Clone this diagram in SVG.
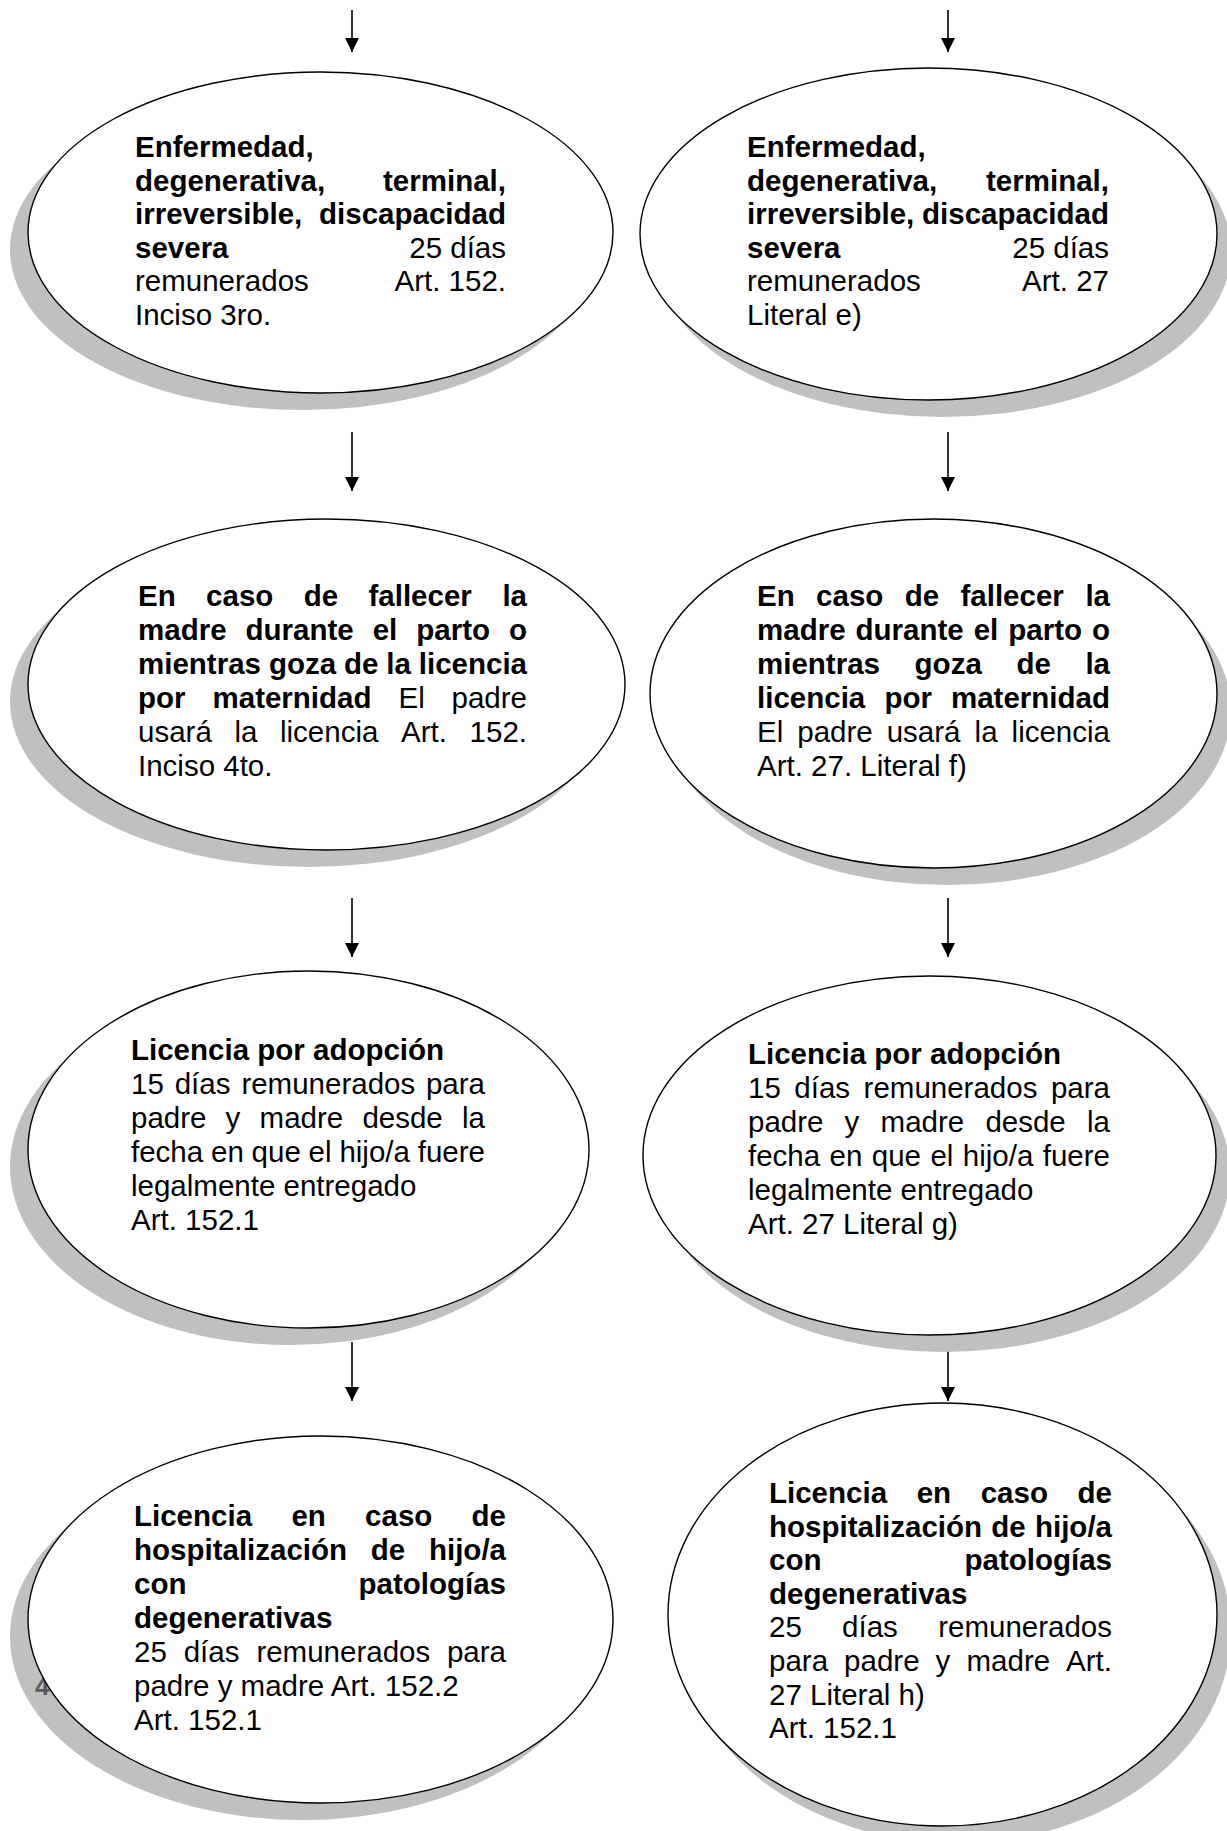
<svg xmlns="http://www.w3.org/2000/svg" width="1227" height="1831" viewBox="0 0 1227 1831">
<defs>
<style>
.sh{fill:#c0c0c0}
.el{fill:#fff;stroke:#000;stroke-width:1.4}
text{font-family:"Liberation Sans",Arial,sans-serif;font-size:29.5px;fill:#000}
.b{font-weight:bold}
.e{text-anchor:end}
.pg{font-weight:bold;font-size:26px;fill:#595959}
.cn{stroke:#000;stroke-width:1.6;fill:none}
</style>
<marker id="ah" markerUnits="userSpaceOnUse" markerWidth="14" markerHeight="14" refX="14" refY="7" orient="auto">
<path d="M0,0 L14,7 L0,14 z" fill="#000"/>
</marker>
</defs>
<rect width="1227" height="1831" fill="#fff"/>

<g id="connectors">
<line class="cn" x1="352" y1="10" x2="352" y2="52" marker-end="url(#ah)"/>
<line class="cn" x1="948" y1="10" x2="948" y2="52" marker-end="url(#ah)"/>
<line class="cn" x1="352" y1="432" x2="352" y2="491" marker-end="url(#ah)"/>
<line class="cn" x1="948" y1="432" x2="948" y2="491" marker-end="url(#ah)"/>
<line class="cn" x1="352" y1="898" x2="352" y2="957" marker-end="url(#ah)"/>
<line class="cn" x1="948" y1="898" x2="948" y2="957" marker-end="url(#ah)"/>
<line class="cn" x1="352" y1="1342" x2="352" y2="1401" marker-end="url(#ah)"/>
<line class="cn" x1="948" y1="1342" x2="948" y2="1401" marker-end="url(#ah)"/>
</g>

<g id="node-L1">
<ellipse class="sh" cx="302.5" cy="249.5" rx="292.5" ry="160.5"/>
<ellipse class="el" cx="320.5" cy="232.5" rx="292.5" ry="160.5"/>
<text class="b" x="135" y="157">Enfermedad,</text>
<text class="b" x="135" y="191">degenerativa,</text><text class="b e" x="506" y="191">terminal,</text>
<text class="b" x="135" y="224">irreversible,</text><text class="b e" x="506" y="224">discapacidad</text>
<text class="b" x="135" y="258">severa</text><text class="e" x="506" y="258">25 días</text>
<text x="135" y="291">remunerados</text><text class="e" x="506" y="291">Art. 152.</text>
<text x="135" y="325">Inciso 3ro.</text>
</g>

<g id="node-R1">
<ellipse class="sh" cx="942.5" cy="251" rx="288.5" ry="166"/>
<ellipse class="el" cx="928.5" cy="234" rx="288.5" ry="166"/>
<text class="b" x="747" y="157">Enfermedad,</text>
<text class="b" x="747" y="191">degenerativa,</text><text class="b e" x="1109" y="191">terminal,</text>
<text class="b" x="747" y="224">irreversible,</text><text class="b e" x="1109" y="224">discapacidad</text>
<text class="b" x="747" y="258">severa</text><text class="e" x="1109" y="258">25 días</text>
<text x="747" y="291">remunerados</text><text class="e" x="1109" y="291">Art. 27</text>
<text x="747" y="325">Literal e)</text>
</g>

<g id="node-L2">
<ellipse class="sh" cx="308.5" cy="701.5" rx="298.5" ry="165.5"/>
<ellipse class="el" cx="326.5" cy="684.5" rx="298.5" ry="165.5"/>
<text class="b" y="606"><tspan x="138">En</tspan><tspan x="206.1">caso</tspan><tspan x="303.7">de</tspan><tspan x="368.5">fallecer</tspan></text><text class="b e" x="527" y="606">la</text>
<text class="b" y="640"><tspan x="138">madre</tspan><tspan x="245.5">durante</tspan><tspan x="372.7">el</tspan><tspan x="416.3">parto</tspan></text><text class="b e" x="527" y="640">o</text>
<text class="b" y="674"><tspan x="138">mientras</tspan><tspan x="268.9">goza</tspan><tspan x="344">de</tspan><tspan x="386.3">la</tspan></text><text class="b e" x="527" y="674">licencia</text>
<text y="708"><tspan class="b" x="138">por</tspan><tspan class="b" x="212.5">maternidad</tspan><tspan x="398.5">El</tspan></text><text class="e" x="527" y="708">padre</text>
<text y="742"><tspan x="138">usará</tspan><tspan x="234.4">la</tspan><tspan x="280">licencia</tspan><tspan x="401">Art.</tspan></text><text class="e" x="527" y="742">152.</text>
<text x="138" y="776">Inciso 4to.</text>
</g>

<g id="node-R2">
<ellipse class="sh" cx="947.5" cy="710.5" rx="283.5" ry="174.5"/>
<ellipse class="el" cx="933.5" cy="693.5" rx="283.5" ry="174.5"/>
<text class="b" y="606"><tspan x="757">En</tspan><tspan x="816.1">caso</tspan><tspan x="904.7">de</tspan><tspan x="960.5">fallecer</tspan></text><text class="b e" x="1110" y="606">la</text>
<text class="b" y="640"><tspan x="757">madre</tspan><tspan x="855.5">durante</tspan><tspan x="973.7">el</tspan><tspan x="1008.3">parto</tspan></text><text class="b e" x="1110" y="640">o</text>
<text class="b" y="674"><tspan x="757">mientras</tspan><tspan x="914.6">goza</tspan><tspan x="1016.4">de</tspan></text><text class="b e" x="1110" y="674">la</text>
<text class="b" y="708"><tspan x="757">licencia</tspan><tspan x="884.4">por</tspan></text><text class="b e" x="1110" y="708">maternidad</text>
<text y="742"><tspan x="757">El</tspan><tspan x="797.3">padre</tspan><tspan x="886.7">usará</tspan><tspan x="974.6">la</tspan></text><text class="e" x="1110" y="742">licencia</text>
<text x="757" y="776">Art. 27. Literal f)</text>
</g>

<g id="node-L3">
<ellipse class="sh" cx="290.5" cy="1166.5" rx="280.5" ry="178.5"/>
<ellipse class="el" cx="308.5" cy="1149.5" rx="280.5" ry="178.5"/>
<text class="b" x="131" y="1060">Licencia por adopción</text>
<text y="1094"><tspan x="131">15</tspan><tspan x="174.7">días</tspan><tspan x="241.4">remunerados</tspan></text><text class="e" x="485" y="1094">para</text>
<text y="1128"><tspan x="131">padre</tspan><tspan x="225.6">y</tspan><tspan x="259.6">madre</tspan><tspan x="362.4">desde</tspan></text><text class="e" x="485" y="1128">la</text>
<text y="1162"><tspan x="131">fecha</tspan><tspan x="211">en</tspan><tspan x="251.6">que</tspan><tspan x="308.6">el</tspan><tspan x="339.4">hijo/a</tspan></text><text class="e" x="485" y="1162">fuere</text>
<text x="131" y="1196">legalmente entregado</text>
<text x="131" y="1230">Art. 152.1</text>
</g>

<g id="node-R3">
<ellipse class="sh" cx="943.5" cy="1172.5" rx="286.5" ry="179.5"/>
<ellipse class="el" cx="929.5" cy="1155.5" rx="286.5" ry="179.5"/>
<text class="b" x="748" y="1064">Licencia por adopción</text>
<text y="1098"><tspan x="748">15</tspan><tspan x="794.3">días</tspan><tspan x="863.6">remunerados</tspan></text><text class="e" x="1110" y="1098">para</text>
<text y="1132"><tspan x="748">padre</tspan><tspan x="844.6">y</tspan><tspan x="880.6">madre</tspan><tspan x="985.4">desde</tspan></text><text class="e" x="1110" y="1132">la</text>
<text y="1166"><tspan x="748">fecha</tspan><tspan x="829.6">en</tspan><tspan x="871.8">que</tspan><tspan x="930.4">el</tspan><tspan x="962.8">hijo/a</tspan></text><text class="e" x="1110" y="1166">fuere</text>
<text x="748" y="1200">legalmente entregado</text>
<text x="748" y="1234">Art. 27 Literal g)</text>
</g>

<g id="node-L4">
<ellipse class="sh" cx="302.5" cy="1636.5" rx="292.5" ry="183.5"/>
<text id="page-number" class="pg" x="35" y="1695">4</text>
<ellipse class="el" cx="320.5" cy="1619.5" rx="292.5" ry="183.5"/>
<text class="b" y="1526"><tspan x="134">Licencia</tspan><tspan x="291.4">en</tspan><tspan x="365.1">caso</tspan></text><text class="b e" x="506" y="1526">de</text>
<text class="b" y="1560"><tspan x="134">hospitalización</tspan><tspan x="370.8">de</tspan></text><text class="b e" x="506" y="1560">hijo/a</text>
<text class="b" x="134" y="1594">con</text><text class="b e" x="506" y="1594">patologías</text>
<text class="b" x="134" y="1628">degenerativas</text>
<text y="1662"><tspan x="134">25</tspan><tspan x="183.7">días</tspan><tspan x="256.4">remunerados</tspan></text><text class="e" x="506" y="1662">para</text>
<text x="134" y="1696">padre y madre Art. 152.2</text>
<text x="134" y="1730">Art. 152.1</text>
</g>

<g id="node-R4">
<ellipse class="sh" cx="956.5" cy="1631.5" rx="274.5" ry="211.5"/>
<ellipse class="el" cx="942.5" cy="1614.5" rx="274.5" ry="211.5"/>
<text class="b" y="1503"><tspan x="769">Licencia</tspan><tspan x="916.7">en</tspan><tspan x="980.7">caso</tspan></text><text class="b e" x="1112" y="1503">de</text>
<text class="b" y="1537"><tspan x="769">hospitalización</tspan><tspan x="991.3">de</tspan></text><text class="b e" x="1112" y="1537">hijo/a</text>
<text class="b" x="769" y="1570">con</text><text class="b e" x="1112" y="1570">patologías</text>
<text class="b" x="769" y="1604">degenerativas</text>
<text y="1637"><tspan x="769">25</tspan><tspan x="842.1">días</tspan></text><text class="e" x="1112" y="1637">remunerados</text>
<text y="1671"><tspan x="769">para</tspan><tspan x="844.1">padre</tspan><tspan x="935.6">y</tspan><tspan x="966.5">madre</tspan></text><text class="e" x="1112" y="1671">Art.</text>
<text x="769" y="1705">27 Literal h)</text>
<text x="769" y="1738">Art. 152.1</text>
</g>
</svg>
